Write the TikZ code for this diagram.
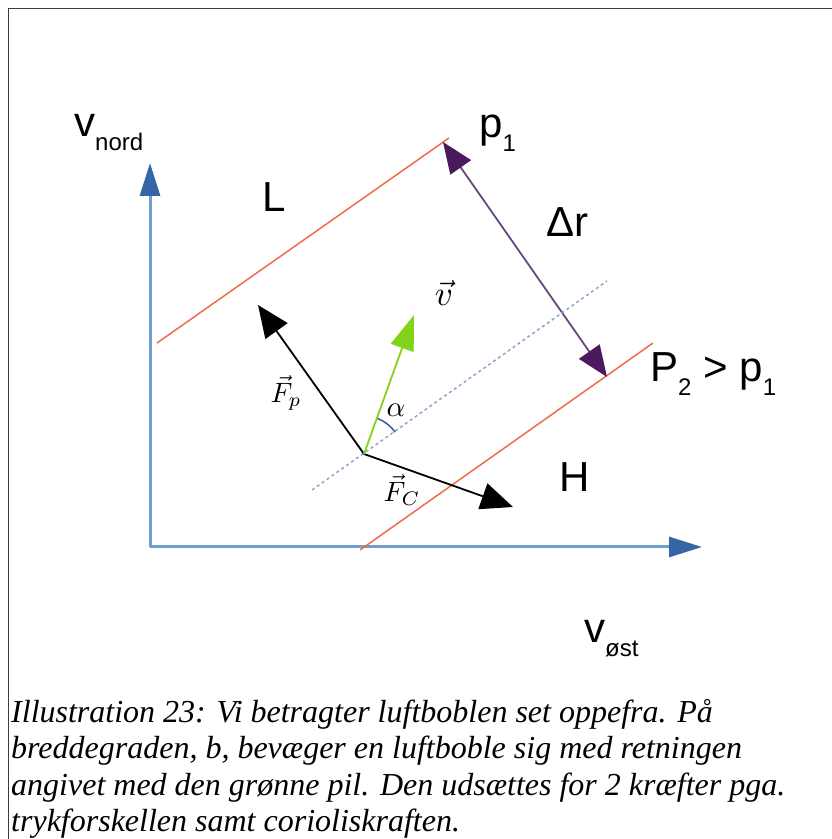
\documentclass[tikz,border=0pt]{standalone}
\usepackage{fontspec}
\setmainfont{Liberation Sans}
\newfontfamily\capfont{Liberation Serif}
\usepackage{graphicx}
\usepackage{tikz}
\usetikzlibrary{arrows.meta}
\definecolor{axisline}{RGB}{114,159,207}
\definecolor{axishead}{RGB}{52,101,164}
\definecolor{isoorange}{RGB}{240,108,66}
\definecolor{vgreen}{RGB}{129,212,26}
\definecolor{drline}{RGB}{104,72,124}
\definecolor{drhead}{RGB}{74,26,92}
\definecolor{dotblue}{RGB}{140,165,200}
\definecolor{arcblue}{RGB}{60,90,160}
\definecolor{framegray}{RGB}{60,60,60}
\newcommand{\sublab}[2]{#1\raisebox{-14pt}{\fontsize{24}{24}\selectfont #2}}
\newcommand{\bigmath}[2]{\scalebox{#1}{$#2$}}

\begin{document}
\begin{tikzpicture}[x=1pt,y=1pt,
    axis/.style={line width=3pt, axisline, -{Triangle[length=33pt,width=20pt,color=axishead,fill=axishead]}},
    isobar/.style={isoorange, line width=1.5pt},
    force/.style={line width=1.8pt, -{Triangle[length=32pt,width=27pt]}},
    lab/.style={inner sep=0pt, anchor=base west, font=\fontsize{42}{42}\selectfont},
    mathlab/.style={inner sep=0pt},
    capline/.style={inner sep=0pt, anchor=base west, font=\capfont\itshape\fontsize{32}{37}\selectfont}]
    \useasboundingbox (0,0) rectangle (832,839);
    % frame
    \draw[framegray, line width=1.5pt] (8.5,0) -- (8.5,830.5) -- (832,830.5);
    % axes
    \coordinate (A0) at (150,292);
    \coordinate (Anord) at (150,676);
    \coordinate (Aost) at (702,292);
    \draw[axis] (A0) -- (Anord);
    \draw[axis] (A0) -- (Aost);
    % isobars and distance
    \coordinate (L1) at (157,496);
    \coordinate (L2) at (449,701);
    \coordinate (H1) at (360,289);
    \coordinate (H2) at (653,496);
    \draw[isobar] (L1) -- (L2);
    \draw[isobar] (H1) -- (H2);
    \coordinate (R1) at (443,697);
    \coordinate (R2) at (607,462);
    \draw[drline, line width=1.8pt, {Triangle[length=31pt,width=25pt,color=drhead,fill=drhead]}-{Triangle[length=31pt,width=25pt,color=drhead,fill=drhead]}] (R1) -- (R2);
    \coordinate (D1) at (312,349);
    \coordinate (D2) at (607,558);
    \draw[dotblue, line width=1.5pt, dash pattern=on 3pt off 3pt] (D1) -- (D2);
    % bubble and forces
    \coordinate (O) at (364,385);
    \coordinate (Vtip) at (414,524);
    \coordinate (Fptip) at (258,534);
    \coordinate (Fctip) at (513,332);
    \draw[force] (O) -- (Fptip);
    \draw[force] (O) -- (Fctip);
    \draw[vgreen, line width=1.8pt, -{Triangle[length=35pt,width=24pt]}] (O) -- (Vtip);
    \draw[arcblue, line width=1.5pt] (O) ++(35:38) arc[start angle=35, end angle=69, radius=38];
    % labels
    \node[lab] (vnord) at (74,702) {\sublab{v}{nord}};
    \node[lab] (vost) at (584,196) {\sublab{v}{øst}};
    \node[lab] (lowp) at (262,627) {L};
    \node[lab] (highp) at (559,347) {H};
    \node[lab] (p1) at (479,701) {\sublab{p}{1}};
    \node[lab] (dr) at (546,602) {Δr};
    \node[lab] (p2) at (650,457) {\sublab{P}{2} > \sublab{p}{1}};
    \node[mathlab] (vlab) at (444,546) {\bigmath{3.5}{\vec{v}}};
    \node[mathlab] (fplab) at (286,446) {\bigmath{2.8}{\vec{F}_p}};
    \node[mathlab] (fclab) at (402,349) {\bigmath{2.8}{\vec{F}_C}};
    \node[mathlab] (alab) at (396,429) {\bigmath{2.9}{\alpha}};
    % caption
    \node[capline] (cap1) at (11,116) {Illustration 23: Vi betragter luftboblen set oppefra. På};
    \node[capline] (cap2) at (11,80) {breddegraden, b, bevæger en luftboble sig med retningen};
    \node[capline] (cap3) at (11,43) {angivet med den grønne pil. Den udsættes for 2 kræfter pga.};
    \node[capline] (cap4) at (11,8) {trykforskellen samt corioliskraften.};
\end{tikzpicture}
\end{document}
